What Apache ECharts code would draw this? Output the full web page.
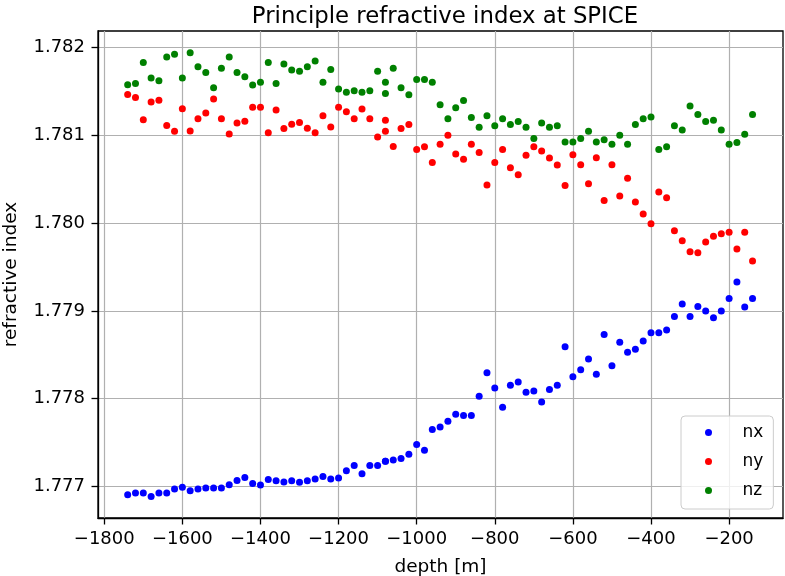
<!DOCTYPE html>
<html>
<head>
<meta charset="utf-8">
<script src="https://cdn.jsdelivr.net/npm/echarts@6/dist/echarts.min.js"></script>
<style>html,body{margin:0;padding:0;background:#fff}#c{width:785px;height:576px}</style>
</head>
<body>
<div id="c"></div>
<script>
const depth = [-1740,-1720,-1700,-1680,-1660,-1640,-1620,-1600,-1580,-1560,-1540,-1520,-1500,-1480,-1460,-1440,-1420,-1400,-1380,-1360,-1340,-1320,-1300,-1280,-1260,-1240,-1220,-1200,-1180,-1160,-1140,-1120,-1100,-1080,
  -1080,
  -1060,-1040,-1020,-1000,-980,-960,-940,-920,-900,-880,-860,-840,-820,-800,-780,-760,-740,-720,-700,-680,-660,-640,
  -620,-600,-580,-560,-540,-520,-500,-480,-460,-440,-420,-400,-380,-360,-340,-320,-300,-280,-260,-240,-220,-200,-180,-160,-140];
const nx = [1.776905,1.776924,1.776924,1.776886,1.776924,1.776924,1.776970,1.776989,1.776951,1.776970,1.776981,1.776981,1.776981,1.777019,1.777068,1.777102,1.777034,1.777015,1.777080,1.777064,1.777049,1.777064,1.777046,1.777064,1.777083,1.777114,1.777085,1.777096,
  1.777177,1.777238,1.777143,1.777238,1.777238,1.777287,
  1.777287,
  1.777302,1.777317,1.777367,1.777477,1.777412,1.777647,1.777678,1.777742,1.777822,1.777807,1.777807,1.778027,1.778296,1.778121,1.777901,1.778152,1.778190,1.778072,1.778087,1.777962,1.778104,1.778154,
  1.778592,1.778249,1.778328,1.778453,1.778279,1.778732,1.778374,1.778642,1.778528,1.778562,1.778657,1.778751,1.778751,1.778781,1.778936,1.779079,1.778936,1.779049,1.779000,1.778921,1.779000,1.779140,1.779328,1.779045,1.779140];
const ny = [1.781465,1.781431,1.781177,1.781381,1.781400,1.781112,1.781046,1.781304,1.781050,1.781188,1.781254,1.781415,1.781188,1.781015,1.781142,1.781162,1.781319,1.781319,1.781031,1.781288,1.781077,1.781127,1.781146,1.781081,1.781031,1.781223,1.781094,1.781319,
  1.781269,1.781188,1.781300,1.781188,1.780981,1.781173,
  1.781046,
  1.780873,1.781077,1.781123,1.780838,1.780869,1.780692,1.780900,1.781000,1.780788,1.780727,1.780900,1.780804,1.780433,1.780692,1.780838,1.780631,1.780550,1.780773,1.780869,1.780823,1.780742,1.780662,
  1.780430,1.780778,1.780664,1.780448,1.780744,1.780259,1.780664,1.780308,1.780510,1.780240,1.780104,1.779993,1.780354,1.780289,1.779914,1.779800,1.779675,1.779663,1.779785,1.779850,1.779879,1.779895,1.779705,1.779895,1.779569];
const nz = [1.781577,1.781592,1.781831,1.781654,1.781623,1.781892,1.781923,1.781654,1.781942,1.781781,1.781715,1.781542,1.781765,1.781892,1.781715,1.781669,1.781573,1.781604,1.781831,1.781592,1.781812,1.781746,1.781731,1.781781,1.781846,1.781604,1.781750,1.781527,
  1.781492,1.781508,1.781492,1.781508,1.781731,1.781604,
  1.781477,
  1.781765,1.781542,1.781462,1.781635,1.781635,1.781604,1.781350,1.781188,1.781315,1.781396,1.781204,1.781092,1.781223,1.781108,1.781188,1.781123,1.781158,1.781092,1.780965,1.781142,1.781092,1.781108,
  1.780923,1.780923,1.780965,1.781046,1.780923,1.780950,1.780900,1.781000,1.780900,1.781123,1.781188,1.781208,1.780838,1.780869,1.781108,1.781062,1.781335,1.781238,1.781158,1.781173,1.781062,1.780900,1.780919,1.781012,1.781238];
const xTicks = [-1800,-1600,-1400,-1200,-1000,-800,-600,-400,-200];
const yTicks = [1.777,1.778,1.779,1.780,1.781,1.782];
const seriesNames = ['nx','ny','nz'];
const seriesColors = ['#0000ff','#ff0000','#008000'];
const seriesValues = [nx, ny, nz];

const FONT = 'DejaVu Sans';
const chart = echarts.init(document.getElementById('c'), null, {renderer:'canvas'});
chart.setOption({
  animation: false,
  backgroundColor: '#fff',
  title: {
    text: 'Principle refractive index at SPICE',
    left: 440, top: 1, textAlign: 'center',
    textStyle: {fontFamily: FONT, fontSize: 22.8, fontWeight: 'normal', color: '#000'}
  },
  grid: {left: 98, right: 2, top: 31, bottom: 58, outerBoundsMode: 'none', containLabel: false, show: true, borderColor: '#000', borderWidth: 1.3, backgroundColor: 'transparent'},
  legend: {
    orient: 'vertical', left: 681, top: 416,
    padding: [8, 10, 10, 24], itemGap: 12, itemWidth: 58, itemHeight: 7,
    backgroundColor: 'rgba(255,255,255,0.8)', borderColor: '#cccccc', borderWidth: 1, borderRadius: 4,
    textStyle: {fontFamily: FONT, fontSize: 17, color: '#000'},
    data: seriesNames.map(n => ({name: n, icon: 'circle'}))
  },
  xAxis: {
    type: 'value', min: -1816, max: -62,
    name: 'depth [m]', nameLocation: 'middle', nameGap: 39.5, nameMoveOverlap: false,
    nameTextStyle: {fontFamily: FONT, fontSize: 18.5, color: '#000'},
    axisLine: {show: true, onZero: false, lineStyle: {color: '#000', width: 1.3}},
    axisTick: {show: true, inside: false, length: 6.5, lineStyle: {color: '#000', width: 1.3}, customValues: xTicks},
    axisLabel: {margin: 12, fontFamily: FONT, fontSize: 18, color: '#000', customValues: xTicks,
      formatter: v => (v < 0 ? '\u2212' + Math.abs(v) : String(v))},
    splitLine: {show: true, lineStyle: {color: '#b0b0b0', width: 1.2}}
  },
  yAxis: {
    type: 'value', min: 1.77664, max: 1.782189,
    name: 'refractive index', nameLocation: 'middle', nameGap: 77, nameRotate: 90, nameMoveOverlap: false,
    nameTextStyle: {fontFamily: FONT, fontSize: 18.5, color: '#000'},
    axisLine: {show: true, onZero: false, lineStyle: {color: '#000', width: 1.3}},
    axisTick: {show: true, inside: false, length: 6.5, lineStyle: {color: '#000', width: 1.3}, customValues: yTicks},
    axisLabel: {margin: 13, fontFamily: FONT, fontSize: 18, color: '#000', customValues: yTicks,
      formatter: v => v.toFixed(3)},
    splitLine: {show: true, lineStyle: {color: '#b0b0b0', width: 1.2}}
  },
  series: seriesNames.map((n, k) => ({
    name: n, type: 'scatter', symbol: 'circle', symbolSize: 7,
    itemStyle: {color: seriesColors[k], opacity: 1},
    emphasis: {disabled: true},
    data: depth.map((d, i) => [d, seriesValues[k][i]])
  }))
});
</script>
</body>
</html>
